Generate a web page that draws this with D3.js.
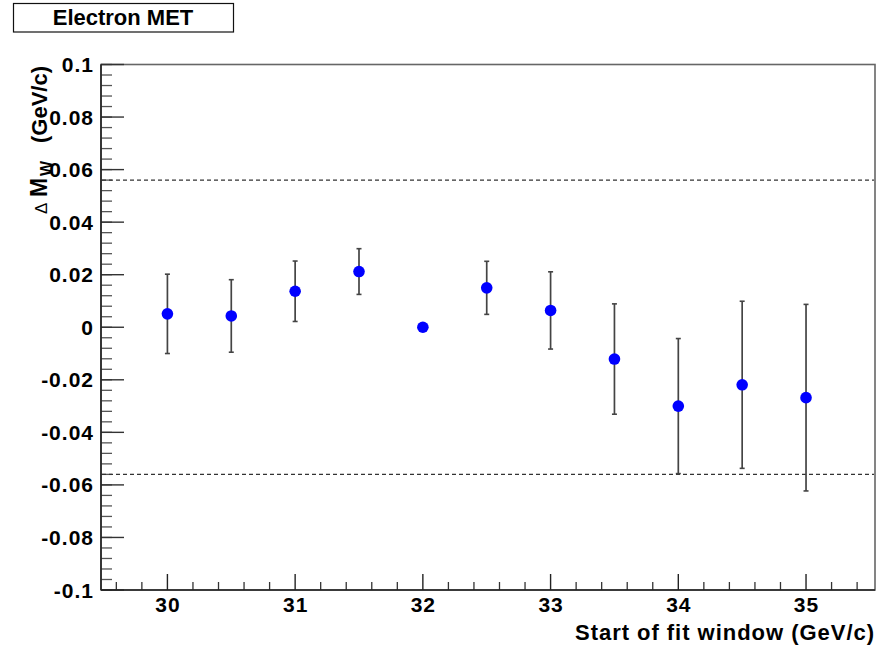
<!DOCTYPE html>
<html>
<head>
<meta charset="utf-8">
<script src="https://cdn.jsdelivr.net/npm/d3@7"></script>
<style>
  html, body { margin: 0; padding: 0; background: #fff; }
  svg { display: block; }
  text { font-family: "Liberation Sans", Arial, Helvetica, sans-serif; font-weight: bold; fill: #000; }
</style>
</head>
<body>
<svg id="chart" width="894" height="649"></svg>
<script>
// ---- data ----
const xValues = [30, 30.5, 31, 31.5, 32, 32.5, 33, 33.5, 34, 34.5, 35];
const yValues = [0.0051, 0.0043, 0.0137, 0.0212, 0.0, 0.0150, 0.0064, -0.0121, -0.0300, -0.0219, -0.0268];
const yErrors = [0.0151, 0.0138, 0.0115, 0.0087, 0.0, 0.0101, 0.0147, 0.0210, 0.0257, 0.0318, 0.0355];
const xTickValues = [30, 31, 32, 33, 34, 35];
const yTickValues = [-0.1, -0.08, -0.06, -0.04, -0.02, 0, 0.02, 0.04, 0.06, 0.08, 0.1];
const bandLimits = [0.056, -0.056];
const titleText = "Electron MET";
const xTitle = "Start of fit window (GeV/c)";

// ---- layout ----
const svg = d3.select("#chart");
const L = 101, R = 875, T = 64.5, B = 590;
const x = d3.scaleLinear().domain([29.48, 35.54]).range([L, R]);
const y = d3.scaleLinear().domain([-0.1, 0.1]).range([B, T]);

// frame
svg.append("rect").attr("x", L).attr("y", T).attr("width", R - L).attr("height", B - T)
  .attr("fill", "none").attr("stroke", "#666").attr("stroke-width", 1.6);

// minor ticks
const xMinor = d3.range(29.6, 35.55, 0.2).map(v => +v.toFixed(2)).filter(v => Math.abs(v - Math.round(v)) > 1e-6);
const yMinor = d3.range(-0.1, 0.1001, 0.004).map(v => +v.toFixed(3));

const gx = svg.append("g");
gx.selectAll("line.minor").data(xMinor).join("line")
  .attr("x1", d => x(d)).attr("x2", d => x(d)).attr("y1", B).attr("y2", B - 8)
  .attr("stroke", "#333").attr("stroke-width", 1.3);
gx.selectAll("line.major").data(xTickValues).join("line")
  .attr("x1", d => x(d)).attr("x2", d => x(d)).attr("y1", B).attr("y2", B - 16)
  .attr("stroke", "#222").attr("stroke-width", 1.4);
gx.selectAll("text").data(xTickValues).join("text")
  .attr("x", d => x(d) + 0.5).attr("y", 612).attr("text-anchor", "middle")
  .attr("font-size", 21).attr("letter-spacing", 1).text(d => String(d));

const gy = svg.append("g");
gy.selectAll("line.minor").data(yMinor).join("line")
  .attr("x1", L).attr("x2", L + 11).attr("y1", d => y(d)).attr("y2", d => y(d))
  .attr("stroke", "#555").attr("stroke-width", 1.3);
gy.selectAll("line.major").data(yTickValues).join("line")
  .attr("x1", L).attr("x2", L + 23).attr("y1", d => y(d)).attr("y2", d => y(d))
  .attr("stroke", "#333").attr("stroke-width", 1.4);
gy.selectAll("text").data(yTickValues).join("text")
  .attr("x", 94).attr("y", d => y(d) + 7.5).attr("text-anchor", "end")
  .attr("font-size", 21).attr("letter-spacing", 1)
  .text(d => String(+d.toFixed(2)));

// axes lines
svg.append("line").attr("x1", L).attr("x2", L).attr("y1", T).attr("y2", B).attr("stroke", "#222").attr("stroke-width", 1.6);
svg.append("line").attr("x1", L).attr("x2", R).attr("y1", B).attr("y2", B).attr("stroke", "#222").attr("stroke-width", 1.6);

// dashed limits
svg.selectAll("line.band").data(bandLimits).join("line")
  .attr("x1", L + 1).attr("x2", R - 1).attr("y1", d => y(d)).attr("y2", d => y(d))
  .attr("stroke", "#333").attr("stroke-width", 1.1).attr("stroke-dasharray", "4,3");

// error bars
const pts = xValues.map((v, i) => ({ x: v, y: yValues[i], e: yErrors[i] }));
const withErr = pts.filter(d => d.e > 0);
const eb = svg.append("g");
eb.selectAll("line.err").data(withErr).join("line")
  .attr("x1", d => x(d.x)).attr("x2", d => x(d.x))
  .attr("y1", d => y(d.y + d.e)).attr("y2", d => y(d.y - d.e))
  .attr("stroke", "#444").attr("stroke-width", 1.7);
eb.selectAll("line.capt").data(withErr).join("line")
  .attr("x1", d => x(d.x) - 2.5).attr("x2", d => x(d.x) + 2.5)
  .attr("y1", d => y(d.y + d.e)).attr("y2", d => y(d.y + d.e))
  .attr("stroke", "#444").attr("stroke-width", 1.6);
eb.selectAll("line.capb").data(withErr).join("line")
  .attr("x1", d => x(d.x) - 2.5).attr("x2", d => x(d.x) + 2.5)
  .attr("y1", d => y(d.y - d.e)).attr("y2", d => y(d.y - d.e))
  .attr("stroke", "#444").attr("stroke-width", 1.6);

// markers
svg.append("g").selectAll("circle").data(pts).join("circle")
  .attr("cx", d => x(d.x)).attr("cy", d => y(d.y)).attr("r", 5.8)
  .attr("fill", "#0000ff");

// x title
svg.append("text").attr("x", 575).attr("y", 639.5).attr("text-anchor", "start")
  .attr("font-size", 22).attr("textLength", 299).attr("lengthAdjust", "spacing").text(xTitle);

// y title (rotated, reads bottom to top)
const yt = svg.append("text").attr("transform", "translate(47,214) rotate(-90)")
  .attr("text-anchor", "start").attr("font-size", 22);
yt.append("tspan").attr("x", 0).attr("font-weight", "normal").attr("font-size", 17).text("\u0394");
yt.append("tspan").attr("x", 17).attr("font-size", 23).text("M");
yt.append("tspan").attr("x", 38).attr("font-size", 16).attr("dy", 5).text("W");
yt.append("tspan").attr("x", 71).attr("dy", -5).attr("font-size", 22).text("(GeV/c)");

// title box
svg.append("rect").attr("x", 13.5).attr("y", 3.5).attr("width", 220).attr("height", 28.5)
  .attr("fill", "#fff").attr("stroke", "#111").attr("stroke-width", 1.2);
svg.append("text").attr("x", 123).attr("y", 24.5).attr("text-anchor", "middle")
  .attr("font-size", 22).text(titleText);
</script>
</body>
</html>
